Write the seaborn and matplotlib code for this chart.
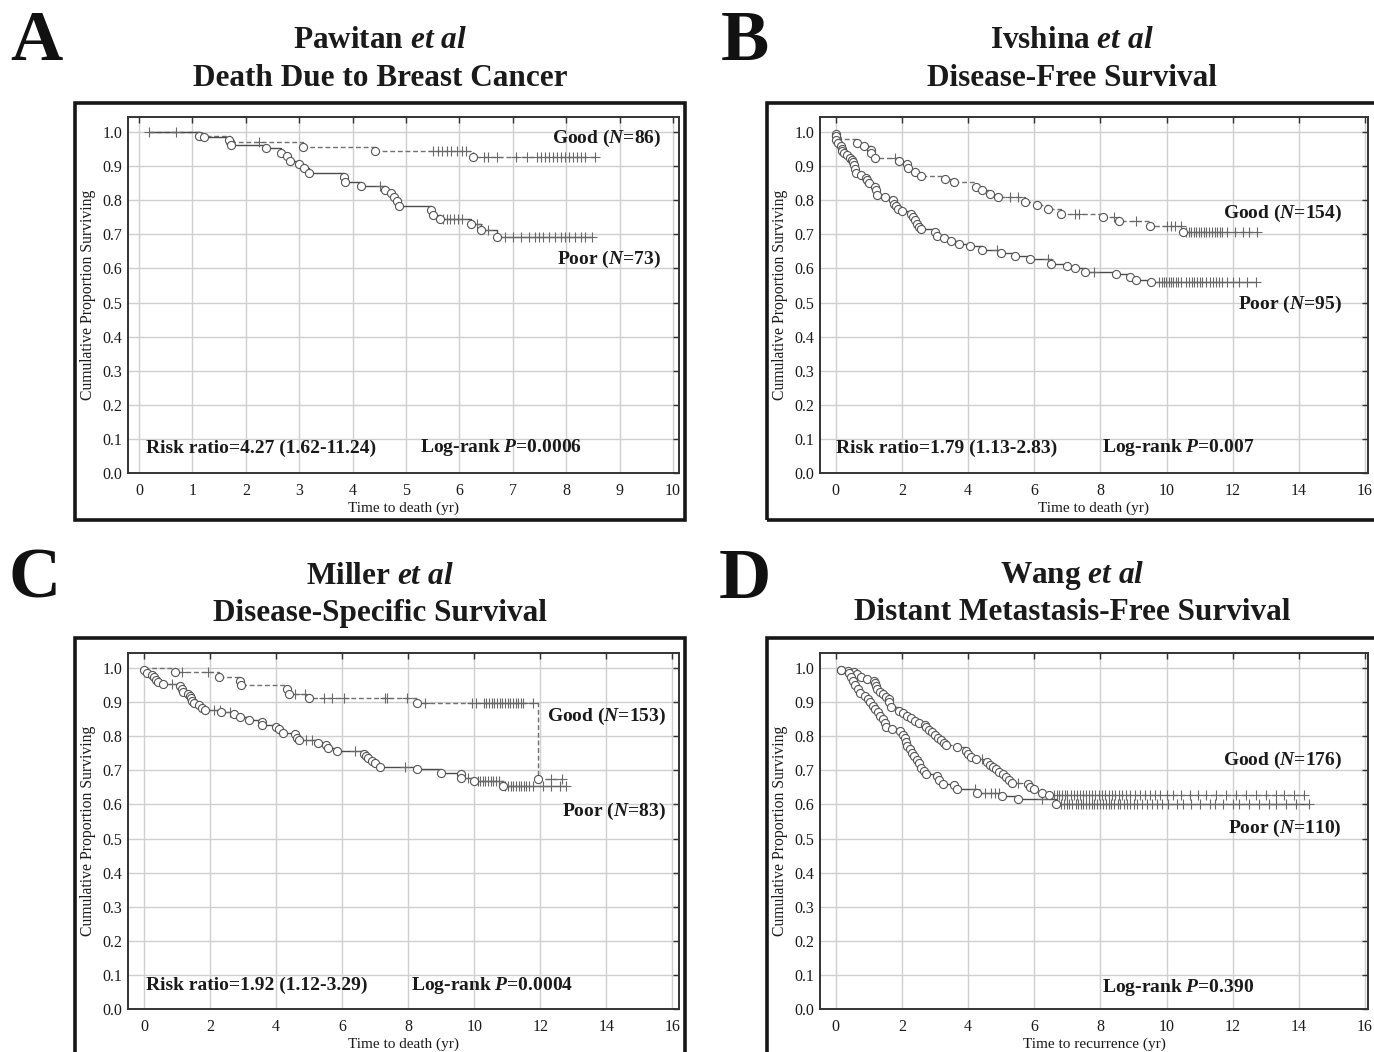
import numpy as np
import pandas as pd
import matplotlib.pyplot as plt
import seaborn as sns
from matplotlib.patches import Rectangle

# ---- Panel A: Pawitan et al, death due to breast cancer ----
a_start = 0.19
a_good_t = [1.15, 1.71, 3.07, 4.41, 6.25]
a_good_s = [0.988, 0.972, 0.957, 0.944, 0.926]
a_good_cens = [0.19, 0.69, 2.25, 5.5, 5.6, 5.68, 5.76, 5.85, 5.95, 6.05, 6.12,
               6.45, 6.53, 6.71, 7.05, 7.27, 7.46, 7.53, 7.6, 7.68, 7.75, 7.83,
               7.9, 7.97, 8.05, 8.12, 8.2, 8.27, 8.35, 8.53]
a_poor_t = [1.13, 1.22, 1.68, 1.73, 2.37, 2.66, 2.78, 2.83, 2.99, 3.08, 3.18,
            3.84, 3.86, 4.15, 4.61, 4.72, 4.78, 4.83, 4.87, 5.47, 5.51, 5.64,
            6.22, 6.4, 6.71]
a_poor_s = [0.988, 0.985, 0.976, 0.963, 0.952, 0.939, 0.929, 0.914, 0.907, 0.894,
            0.88, 0.867, 0.854, 0.843, 0.831, 0.821, 0.81, 0.798, 0.782, 0.77,
            0.758, 0.746, 0.73, 0.714, 0.692]
a_poor_cens = [4.52, 5.7, 5.76, 5.82, 5.9, 5.98, 6.05, 6.33, 6.53, 6.86, 7.01,
               7.16, 7.31, 7.42, 7.49, 7.57, 7.68, 7.79, 7.9, 7.97, 8.05, 8.16,
               8.27, 8.35, 8.49]

# ---- Panel B: Ivshina et al, disease-free survival ----
b_start = 0.0
b_good_t = [0.0, 0.04, 0.65, 0.85, 1.06, 1.06, 1.18, 1.91, 2.16, 2.17, 2.4, 2.56,
            3.31, 3.57, 4.24, 4.41, 4.66, 4.9, 5.73, 6.08, 6.42, 6.82, 8.07,
            8.55, 9.49, 10.5]
b_good_s = [0.993, 0.98, 0.968, 0.958, 0.948, 0.938, 0.925, 0.915, 0.907, 0.895,
            0.883, 0.872, 0.861, 0.852, 0.839, 0.829, 0.817, 0.808, 0.795, 0.785,
            0.773, 0.761, 0.751, 0.738, 0.725, 0.707]
b_good_cens = [1.8, 5.28, 5.52, 7.23, 7.35, 8.42, 9.07, 10.01, 10.13, 10.25, 10.43,
               10.6, 10.68, 10.75, 10.82, 10.9, 10.97, 11.05, 11.12, 11.2, 11.28,
               11.36, 11.45, 11.53, 11.6, 11.67, 11.84, 12.08, 12.32, 12.49, 12.73]
b_poor_t = [0.0, 0.0, 0.05, 0.14, 0.18, 0.2, 0.26, 0.34, 0.44, 0.5, 0.53, 0.56,
            0.59, 0.61, 0.77, 0.91, 0.93, 1.0, 1.18, 1.2, 1.24, 1.5, 1.74, 1.76,
            1.82, 1.88, 2.0, 2.27, 2.33, 2.39, 2.45, 2.5, 2.56, 3.01, 3.06, 3.27,
            3.49, 3.72, 4.07, 4.42, 4.99, 5.43, 5.87, 6.49, 7.0, 7.23, 7.53, 8.48,
            8.89, 9.07, 9.54]
b_poor_s = [0.987, 0.978, 0.968, 0.959, 0.951, 0.943, 0.937, 0.932, 0.925, 0.919,
            0.912, 0.902, 0.891, 0.88, 0.873, 0.866, 0.858, 0.85, 0.84, 0.831,
            0.814, 0.808, 0.8, 0.79, 0.782, 0.775, 0.768, 0.761, 0.751, 0.741,
            0.73, 0.72, 0.717, 0.707, 0.694, 0.689, 0.68, 0.673, 0.665, 0.653,
            0.644, 0.636, 0.629, 0.612, 0.606, 0.6, 0.59, 0.583, 0.575, 0.565,
            0.559]
b_poor_cens = [4.87, 6.41, 7.82, 9.78, 9.85, 9.92, 9.99, 10.06, 10.13, 10.2, 10.28,
               10.36, 10.43, 10.6, 10.68, 10.76, 10.84, 10.92, 11.0, 11.07, 11.19,
               11.31, 11.4, 11.49, 11.58, 11.67, 11.84, 12.02, 12.2, 12.43, 12.7]

# ---- Panel C: Miller et al, disease-specific survival ----
c_start = 0.0
c_good_t = [0.94, 2.27, 2.92, 2.95, 4.32, 4.4, 5.0, 8.26, 11.93]
c_good_s = [0.987, 0.975, 0.963, 0.95, 0.938, 0.925, 0.912, 0.897, 0.675]
c_good_cens = [1.16, 1.93, 4.56, 4.86, 5.45, 5.69, 6.05, 7.3, 7.36, 7.96, 8.5,
               9.93, 10.05, 10.29, 10.37, 10.45, 10.53, 10.61, 10.69, 10.77, 10.85,
               10.93, 11.01, 11.09, 11.17, 11.25, 11.33, 11.41, 11.48, 11.78,
               12.31, 12.67]
c_poor_t = [0.0, 0.08, 0.24, 0.3, 0.35, 0.42, 0.58, 1.1, 1.16, 1.18, 1.34, 1.4,
            1.43, 1.46, 1.52, 1.66, 1.75, 1.85, 2.33, 2.73, 2.92, 3.19, 3.58, 3.58,
            4.0, 4.08, 4.2, 4.58, 4.62, 4.68, 5.27, 5.51, 5.57, 5.84, 6.65, 6.71,
            6.79, 6.89, 6.98, 7.16, 8.26, 9.0, 9.59, 9.59, 9.99, 10.86]
c_poor_s = [0.995, 0.986, 0.979, 0.973, 0.965, 0.958, 0.952, 0.946, 0.939, 0.931,
            0.925, 0.919, 0.912, 0.904, 0.896, 0.891, 0.884, 0.876, 0.872, 0.865,
            0.857, 0.848, 0.843, 0.833, 0.827, 0.82, 0.81, 0.806, 0.796, 0.788,
            0.779, 0.775, 0.765, 0.757, 0.749, 0.742, 0.735, 0.727, 0.72, 0.71,
            0.703, 0.693, 0.688, 0.676, 0.669, 0.654]
c_poor_cens = [0.86, 2.11, 2.29, 2.59, 4.92, 5.1, 6.38, 7.9, 9.81, 10.1, 10.18,
               10.26, 10.34, 10.42, 10.5, 10.58, 10.66, 10.76, 10.94, 11.02, 11.1,
               11.18, 11.26, 11.34, 11.42, 11.5, 11.58, 11.66, 11.78, 12.08, 12.31,
               12.61, 12.79]

# ---- Panel D: Wang et al, distant metastasis-free survival ----
d_start = 0.17
d_good_t = [0.17, 0.38, 0.56, 0.65, 0.77, 0.93, 1.15, 1.17, 1.21, 1.24, 1.32, 1.41,
            1.52, 1.6, 1.62, 1.68, 1.91, 2.03, 2.15, 2.27, 2.39, 2.5, 2.68, 2.74,
            2.83, 2.92, 3.01, 3.1, 3.18, 3.27, 3.33, 3.66, 3.92, 3.98, 4.1, 4.24,
            4.57, 4.67, 4.75, 4.85, 4.93, 5.05, 5.14, 5.22, 5.34, 5.82, 5.87, 5.99,
            6.23, 6.43]
d_good_s = [0.994, 0.99, 0.987, 0.982, 0.975, 0.968, 0.961, 0.955, 0.946, 0.938,
            0.931, 0.924, 0.916, 0.909, 0.899, 0.886, 0.875, 0.867, 0.86, 0.853,
            0.845, 0.84, 0.833, 0.826, 0.818, 0.811, 0.804, 0.796, 0.788, 0.781,
            0.774, 0.767, 0.757, 0.747, 0.739, 0.732, 0.723, 0.716, 0.71, 0.703,
            0.696, 0.688, 0.68, 0.671, 0.664, 0.661, 0.651, 0.644, 0.634, 0.629]
d_good_cens = [4.42, 5.52, 6.6, 6.68, 6.76, 6.84, 6.92, 7.0, 7.1, 7.2, 7.3, 7.38,
               7.46, 7.55, 7.65, 7.75, 7.85, 7.95, 8.05, 8.15, 8.25, 8.35, 8.45,
               8.55, 8.65, 8.78, 8.9, 9.05, 9.2, 9.35, 9.5, 9.65, 9.8, 10.0, 10.2,
               10.45, 10.7, 10.95, 11.2, 11.5, 11.8, 12.1, 12.4, 12.7, 13.0, 13.3,
               13.55, 13.85, 14.15]
d_poor_t = [0.17, 0.41, 0.46, 0.53, 0.59, 0.67, 0.74, 0.89, 0.97, 1.03, 1.11, 1.17,
            1.26, 1.32, 1.42, 1.5, 1.52, 1.7, 1.94, 2.03, 2.09, 2.12, 2.15, 2.25,
            2.3, 2.36, 2.45, 2.5, 2.56, 2.66, 2.74, 3.06, 3.13, 3.25, 3.57, 3.66,
            4.26, 5.01, 5.5, 6.67]
d_poor_s = [0.994, 0.984, 0.975, 0.963, 0.951, 0.938, 0.928, 0.919, 0.909, 0.9,
            0.89, 0.88, 0.87, 0.86, 0.85, 0.84, 0.827, 0.82, 0.816, 0.803, 0.794,
            0.783, 0.772, 0.762, 0.752, 0.742, 0.729, 0.72, 0.708, 0.698, 0.688,
            0.683, 0.672, 0.661, 0.657, 0.644, 0.634, 0.624, 0.615, 0.602]
d_poor_cens = [4.2, 4.52, 4.7, 4.82, 4.93, 6.23, 6.82, 6.9, 6.98, 7.06, 7.15, 7.25,
               7.32, 7.4, 7.48, 7.56, 7.65, 7.74, 7.82, 7.9, 7.98, 8.08, 8.17, 8.25,
               8.33, 8.42, 8.52, 8.6, 8.7, 8.8, 8.9, 9.0, 9.12, 9.25, 9.4, 9.55,
               9.7, 9.85, 10.05, 10.3, 10.5, 10.75, 11.0, 11.3, 11.45, 11.7, 12.0,
               12.2, 12.5, 12.8, 13.1, 13.3, 13.6, 13.9, 14.3]

W, H = 1374, 1052
GOOD_COLOR = '#707070'
POOR_COLOR = '#4a4a4a'
TXT = '#1a1a1a'

sns.set_theme(style='white')
plt.rcParams['font.family'] = ['Liberation Serif', 'DejaVu Serif']
plt.rcParams['mathtext.fontset'] = 'custom'
plt.rcParams['mathtext.it'] = 'Liberation Serif:bold:italic'
plt.rcParams['mathtext.rm'] = 'Liberation Serif:bold'
plt.rcParams['mathtext.bf'] = 'Liberation Serif:bold'

fig = plt.figure(figsize=(W / 100, H / 100), dpi=100)
fig.patch.set_facecolor('white')


def P(x, y):
    # image pixel (top-left origin) -> figure fraction
    return x / W, 1 - y / H


def px_axes(l, t, r, b):
    return fig.add_axes([l / W, 1 - b / H, (r - l) / W, (b - t) / H])


def frame(l, t, r, b):
    fig.patches.append(Rectangle((l / W, 1 - b / H), (r - l) / W, (b - t) / H,
                                 transform=fig.transFigure, fill=False,
                                 lw=2.6, ec='#161616', zorder=0))


def draw_curve(ax, start, ev_t, ev_s, cens_t, color, ls):
    ev_t = np.asarray(ev_t, float)
    ev_s = np.asarray(ev_s, float)
    cens_t = np.asarray(cens_t, float)
    end = max(cens_t.max(), ev_t.max())
    line = pd.DataFrame({'t': np.r_[start, ev_t, end],
                         's': np.r_[1.0, ev_s, ev_s[-1]]})
    sns.lineplot(data=line, x='t', y='s', estimator=None, sort=False,
                 drawstyle='steps-post', color=color, linestyle=ls, lw=1.0,
                 ax=ax, zorder=2)
    idx = np.searchsorted(ev_t, cens_t, side='right') - 1
    lvl = np.where(idx >= 0, ev_s[np.clip(idx, 0, None)], 1.0)
    sns.scatterplot(x=cens_t, y=lvl, marker='+', color='#686868',
                    edgecolor='#686868', s=50, linewidth=0.8, ax=ax, zorder=3)
    sns.scatterplot(x=ev_t, y=ev_s, marker='o', color='white',
                    edgecolor='#555555', s=34, linewidth=0.8, ax=ax, zorder=4)


def style_axes(ax, xlim, xticks, xlabel):
    ax.set_xlim(*xlim)
    ax.set_ylim(0, 1.044)
    ax.set_xticks(xticks)
    ax.set_yticks(np.round(np.arange(0, 1.01, 0.1), 1))
    ax.yaxis.set_major_formatter('{x:.1f}')
    ax.grid(True, color='#cfcfcf', lw=1.0)
    ax.set_axisbelow(True)
    ax.tick_params(direction='in', length=4, width=1, color='#333333',
                   top=True, right=True, labelsize=11.5, labelcolor=TXT)
    ax.tick_params(axis='x', pad=7)
    ax.tick_params(axis='y', pad=4)
    for sp in ax.spines.values():
        sp.set_color('#333333')
        sp.set_linewidth(1.4)
    ax.set_xlabel(xlabel, fontsize=11, color=TXT, labelpad=2)
    ax.set_ylabel('Cumulative Proportion Surviving', fontsize=11.3, color=TXT,
                  labelpad=5)


panels = [
    dict(letter='A', lx=36, ly=42, cx=380, ty=(40, 78),
         title=('Pawitan $et\\ al$', 'Death Due to Breast Cancer'),
         frame=(75, 103, 685, 520), box=(128, 117, 679, 473),
         xlim=(-0.206, 10.11), xticks=range(0, 11), xlabel='Time to death (yr)',
         good=(a_start, a_good_t, a_good_s, a_good_cens),
         poor=(a_start, a_poor_t, a_poor_s, a_poor_cens),
         notes=[('Good ($N$=86)', 661, 138, 'right'),
                ('Poor ($N$=73)', 661, 259, 'right'),
                ('Risk ratio=4.27 (1.62-11.24)', 146, 448, 'left'),
                ('Log-rank $P$=0.0006', 420, 448, 'left')]),
    dict(letter='B', lx=745, ly=42, cx=1072, ty=(40, 78),
         title=('Ivshina $et\\ al$', 'Disease-Free Survival'),
         frame=(767, 103, 1382, 520), box=(820, 117, 1368, 473),
         xlim=(-0.48, 16.09), xticks=range(0, 17, 2), xlabel='Time to death (yr)',
         good=(b_start, b_good_t, b_good_s, b_good_cens),
         poor=(b_start, b_poor_t, b_poor_s, b_poor_cens),
         notes=[('Good ($N$=154)', 1342, 213, 'right'),
                ('Poor ($N$=95)', 1342, 304, 'right'),
                ('Risk ratio=1.79 (1.13-2.83)', 836, 448, 'left'),
                ('Log-rank $P$=0.007', 1102, 448, 'left')]),
    dict(letter='C', lx=35, ly=580, cx=380, ty=(576, 613),
         title=('Miller $et\\ al$', 'Disease-Specific Survival'),
         frame=(75, 638, 685, 1062), box=(128, 653, 679, 1009),
         xlim=(-0.485, 16.2), xticks=range(0, 17, 2), xlabel='Time to death (yr)',
         good=(c_start, c_good_t, c_good_s, c_good_cens),
         poor=(c_start, c_poor_t, c_poor_s, c_poor_cens),
         notes=[('Good ($N$=153)', 666, 716, 'right'),
                ('Poor ($N$=83)', 666, 811, 'right'),
                ('Risk ratio=1.92 (1.12-3.29)', 146, 985, 'left'),
                ('Log-rank $P$=0.0004', 411, 985, 'left')]),
    dict(letter='D', lx=745, ly=580, cx=1072, ty=(576, 613),
         title=('Wang $et\\ al$', 'Distant Metastasis-Free Survival'),
         frame=(767, 638, 1382, 1062), box=(820, 653, 1368, 1009),
         xlim=(-0.48, 16.09), xticks=range(0, 17, 2),
         xlabel='Time to recurrence (yr)',
         good=(d_start, d_good_t, d_good_s, d_good_cens),
         poor=(d_start, d_poor_t, d_poor_s, d_poor_cens),
         notes=[('Good ($N$=176)', 1342, 760, 'right'),
                ('Poor ($N$=110)', 1342, 828, 'right'),
                ('Log-rank $P$=0.390', 1102, 987, 'left')]),
]

for p in panels:
    frame(*p['frame'])
    ax = px_axes(*p['box'])
    draw_curve(ax, *p['good'], GOOD_COLOR, (0, (3.5, 2)))
    draw_curve(ax, *p['poor'], POOR_COLOR, '-')
    style_axes(ax, p['xlim'], list(p['xticks']), p['xlabel'])

    fig.text(*P(p['lx'], p['ly']), p['letter'], fontsize=52, fontweight='bold',
             color='#111111', ha='center', va='center')
    for line_txt, y in zip(p['title'], p['ty']):
        fig.text(*P(p['cx'], y), line_txt, fontsize=22.5, fontweight='bold',
                 color=TXT, ha='center', va='center')
    for txt, x, y, ha in p['notes']:
        fig.text(*P(x, y), txt, fontsize=14, fontweight='bold', color=TXT,
                 ha=ha, va='center')

fig.savefig('out.png', dpi=100, facecolor='white')
